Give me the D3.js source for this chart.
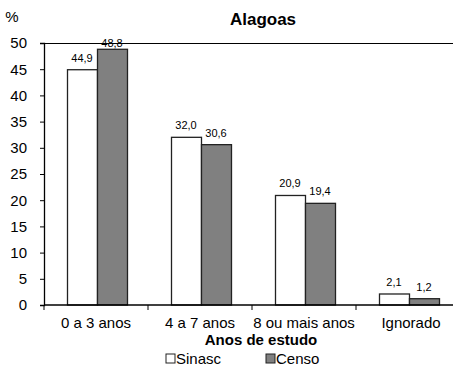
<!DOCTYPE html>
<html>
<head>
<meta charset="utf-8">
<script src="https://cdn.jsdelivr.net/npm/d3@7"></script>
<style>
  body { margin: 0; background: #fff; }
  svg { display: block; font-family: "Liberation Sans", Arial, sans-serif; }
</style>
</head>
<body>
<svg id="chart" width="453" height="369"></svg>
<script>
// Education distribution of mothers, Alagoas: Sinasc vs Censo
const categories = ["0 a 3 anos", "4 a 7 anos", "8 ou mais anos", "Ignorado"];
const sinasc = [44.9, 32.0, 20.9, 2.1];
const censo = [48.8, 30.6, 19.4, 1.2];
const seriesNames = ["Sinasc", "Censo"];
const yTicks = [0, 5, 10, 15, 20, 25, 30, 35, 40, 45, 50];

const svg = d3.select("#chart");
const plot = { left: 44, right: 460, top: 43, bottom: 305 };

const x = d3.scaleBand().domain(categories).range([plot.left, plot.right]).paddingInner(0).paddingOuter(0);
// two bars side by side, centred-ish inside each category band
const xs = d3.scaleBand().domain(seriesNames).range([23, 83]).paddingInner(0).paddingOuter(0);
const y = d3.scaleLinear().domain([0, 50]).range([plot.bottom, plot.top]);

const fills = { Sinasc: "#ffffff", Censo: "#808080" };
const rows = categories.map((c, i) => ({ cat: c, values: [
  { key: "Sinasc", v: sinasc[i] }, { key: "Censo", v: censo[i] } ] }));

// top frame line
svg.append("line").attr("x1", plot.left).attr("x2", 453).attr("y1", plot.top + 0.5).attr("y2", plot.top + 0.5)
  .attr("stroke", "#000").attr("stroke-width", 1);

// bars
const groups = svg.append("g").selectAll("g").data(rows).join("g")
  .attr("transform", d => `translate(${x(d.cat)},0)`);
groups.selectAll("rect").data(d => d.values).join("rect")
  .attr("x", d => xs(d.key) + 0.5)
  .attr("y", d => y(d.v))
  .attr("width", xs.bandwidth())
  .attr("height", d => y(0) - y(d.v))
  .attr("fill", d => fills[d.key])
  .attr("stroke", "#222").attr("stroke-width", 1.3);

// value labels
const fmt = v => v.toFixed(1).replace(".", ",");
groups.selectAll("text").data(d => d.values).join("text")
  .attr("x", d => xs(d.key) + xs.bandwidth() / 2)
  .attr("y", d => Math.max(y(d.v) - 8, plot.top + 4))
  .attr("text-anchor", "middle")
  .attr("font-size", 11).attr("fill", "#000")
  .text(d => fmt(d.v));

// y axis
const yAxis = svg.append("g").attr("transform", `translate(${plot.left},0)`)
  .call(d3.axisLeft(y).tickValues(yTicks).tickSize(4).tickPadding(13).tickFormat(d3.format("d")));
yAxis.select(".domain").attr("stroke", "#000").attr("stroke-width", 1.3);
yAxis.selectAll(".tick line").attr("stroke", "#000");
yAxis.selectAll(".tick text").attr("font-size", 15).attr("fill", "#000")
  .attr("font-family", "Liberation Sans, Arial, sans-serif");

// x axis with ticks at band boundaries
const xAxis = svg.append("g").attr("transform", `translate(0,${plot.bottom})`);
xAxis.append("line").attr("x1", plot.left).attr("x2", 453).attr("y1", 0).attr("y2", 0)
  .attr("stroke", "#000").attr("stroke-width", 1.3);
xAxis.selectAll("line.tk").data(categories).join("line").attr("class", "tk")
  .attr("x1", d => x(d)).attr("x2", d => x(d)).attr("y1", 0).attr("y2", 5)
  .attr("stroke", "#000");
xAxis.selectAll("text").data(categories).join("text")
  .attr("x", d => x(d) + x.bandwidth() / 2 + (d === "Ignorado" ? 3 : 0))
  .attr("y", 23).attr("text-anchor", "middle")
  .attr("font-size", 15).attr("fill", "#000").text(d => d);

// titles
svg.append("text").attr("x", 263).attr("y", 25).attr("text-anchor", "middle")
  .attr("font-size", 17).attr("font-weight", "bold").text("Alagoas");
svg.append("text").attr("x", 12).attr("y", 22).attr("text-anchor", "middle")
  .attr("font-size", 15).text("%");
svg.append("text").attr("x", 261).attr("y", 345).attr("text-anchor", "middle")
  .attr("font-size", 15).attr("font-weight", "bold").text("Anos de estudo");

// legend
const legend = svg.append("g").selectAll("g").data(seriesNames).join("g")
  .attr("transform", (d, i) => `translate(${166 + i * 100},354)`);
legend.append("rect").attr("x", 0).attr("y", 0).attr("width", 9).attr("height", 9)
  .attr("fill", d => fills[d]).attr("stroke", "#222").attr("stroke-width", 1);
legend.append("text").attr("x", 10).attr("y", 10).attr("font-size", 15).text(d => d);
</script>
</body>
</html>
